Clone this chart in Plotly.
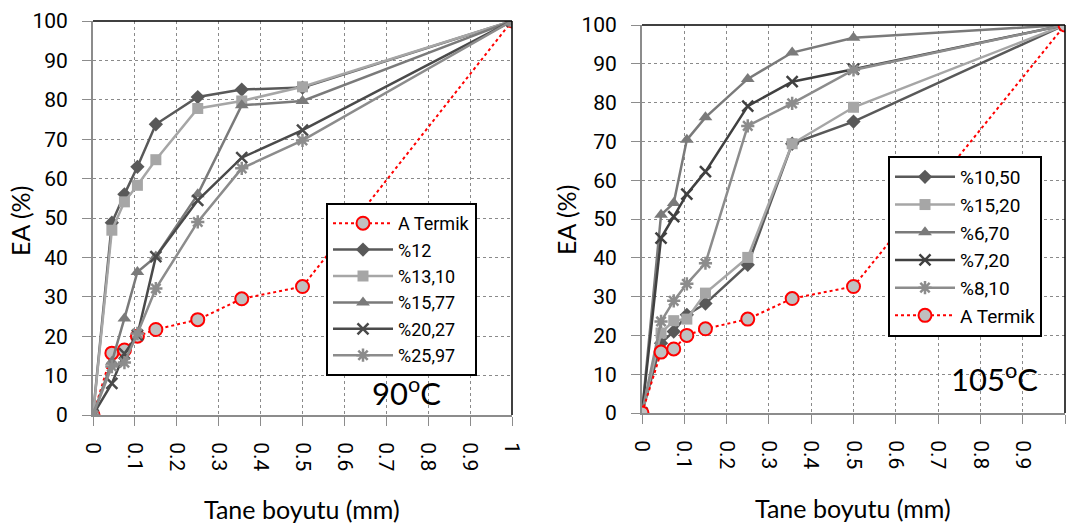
import plotly.graph_objects as go

# ---------------- data ----------------
x_sizes = [0, 0.045, 0.075, 0.106, 0.15, 0.25, 0.355, 0.5, 1]

a_termik = [0, 15.7, 16.5, 20.0, 21.7, 24.2, 29.5, 32.6, 100]

# 90 C series
s90_names = ["%12", "%13,10", "%15,77", "%20,27", "%25,97"]
s90_p12 = [0, 48.8, 56.0, 63.0, 73.8, 80.7, 82.6, 83.1, 100]
s90_p1310 = [0, 46.9, 54.1, 58.3, 64.8, 77.8, 79.7, 83.3, 100]
s90_p1577 = [0, 13.5, 24.5, 36.3, 40.2, 56.0, 78.6, 79.7, 100]
s90_p2027 = [0, 8.0, 15.6, 20.3, 40.2, 54.5, 65.3, 72.3, 100]
s90_p2597 = [0, 12.3, 13.3, 20.7, 32.1, 49.0, 62.6, 69.7, 100]

# 105 C series
s105_names = ["%10,50", "%15,20", "%6,70", "%7,20", "%8,10"]
s105_p1050 = [0, 18.0, 21.0, 25.3, 28.2, 38.2, 69.4, 75.1, 100]
s105_p1520 = [0, 20.6, 23.8, 24.2, 30.9, 40.1, 69.4, 78.8, 100]
s105_p670 = [0, 51.1, 54.1, 70.4, 76.2, 86.1, 92.9, 96.7, 100]
s105_p720 = [0, 45.1, 50.6, 56.4, 62.2, 79.1, 85.4, 88.6, 100]
s105_p810 = [0, 23.6, 28.9, 33.3, 38.6, 74.0, 79.8, 88.4, 100]

x_ticks = [0, 0.1, 0.2, 0.3, 0.4, 0.5, 0.6, 0.7, 0.8, 0.9, 1]
x_ticktext = ["0", "0.1", "0.2", "0.3", "0.4", "0.5", "0.6", "0.7", "0.8", "0.9", "1"]
y_ticks = [0, 10, 20, 30, 40, 50, 60, 70, 80, 90, 100]

# ---------------- styles ----------------
TICKFONT = dict(family="Roboto, Liberation Sans, sans-serif", size=21, color="#000")
LEGFONT_L = dict(family="Roboto, Liberation Sans, sans-serif", size=18, color="#000")
LEGFONT_R = dict(family="Roboto, Liberation Sans, sans-serif", size=19, color="#000")
TITLEFONT = dict(family="Lato, Open Sans, sans-serif", size=25, color="#000")

styles90 = [
    dict(color="#595959", symbol="diamond", size=11),
    dict(color="#A6A6A6", symbol="square", size=11),
    dict(color="#7A7A7A", symbol="triangle-up", size=12),
    dict(color="#4A4A4A", symbol="x-thin-open", size=11),
    dict(color="#8C8C8C", symbol="asterisk-open", size=11),
]
styles105 = [
    dict(color="#595959", symbol="diamond", size=11),
    dict(color="#A6A6A6", symbol="square", size=11),
    dict(color="#7A7A7A", symbol="triangle-up", size=12),
    dict(color="#404040", symbol="x-thin-open", size=11),
    dict(color="#8C8C8C", symbol="asterisk-open", size=11),
]

fig = go.Figure()


def add_termik(xa, ya, leg):
    fig.add_trace(go.Scatter(
        x=x_sizes, y=a_termik, name="A Termik", mode="lines+markers",
        xaxis=xa, yaxis=ya, legend=leg,
        line=dict(color="#FF0000", width=2, dash="dot"),
        marker=dict(symbol="circle", size=13, color="#C0C0C0",
                    line=dict(color="#FF0000", width=2)),
    ))


def add_series(vals, name, st, xa, ya, leg):
    open_sym = st["symbol"].endswith("open")
    fig.add_trace(go.Scatter(
        x=x_sizes, y=vals, name=name, mode="lines+markers",
        xaxis=xa, yaxis=ya, legend=leg,
        line=dict(color=st["color"], width=2.5),
        marker=dict(symbol=st["symbol"], size=st["size"], color=st["color"],
                    line=dict(color=st["color"], width=2.5 if open_sym else 0)),
    ))


# left chart (90 C)
add_termik("x", "y", "legend")
for vals, name, st in zip([s90_p12, s90_p1310, s90_p1577, s90_p2027, s90_p2597], s90_names, styles90):
    add_series(vals, name, st, "x", "y", "legend")

# right chart (105 C)
for vals, name, st in zip([s105_p1050, s105_p1520, s105_p670, s105_p720, s105_p810], s105_names, styles105):
    add_series(vals, name, st, "x2", "y2", "legend2")
add_termik("x2", "y2", "legend2")

W, H = 1067, 527


def px_x(p):
    return p / W


def px_y(p):
    return 1 - p / H


axis_common = dict(
    showgrid=True, gridcolor="#8A8A8A", griddash="dot", gridwidth=1,
    showline=True, linecolor="#8C8C8C", linewidth=2,
    ticks="outside", ticklen=9, tickcolor="#8C8C8C", tickwidth=1,
    tickfont=TICKFONT, zeroline=False, automargin=False,
)

xcommon = dict(axis_common, range=[0, 1], tickvals=x_ticks, ticktext=x_ticktext,
               tickangle=90, ticklabelstandoff=12)
ycommon = dict(axis_common, range=[0, 100], tickvals=y_ticks, ticklabelstandoff=10)


def ann(text, xp, yp, font, angle=0, yanchor="middle"):
    return dict(text=text, x=px_x(xp), y=px_y(yp), xref="paper", yref="paper",
                xanchor="center", yanchor=yanchor, textangle=angle,
                showarrow=False, font=font)


fig.update_layout(
    width=W, height=H,
    margin=dict(l=0, r=0, t=0, b=0),
    paper_bgcolor="white", plot_bgcolor="white",
    showlegend=True,
    xaxis=dict(xcommon, domain=[px_x(93), px_x(512)], anchor="y"),
    yaxis=dict(ycommon, domain=[px_y(415), px_y(21)], anchor="x"),
    xaxis2=dict(xcommon, domain=[px_x(642), px_x(1065)], anchor="y2"),
    yaxis2=dict(ycommon, domain=[px_y(413), px_y(25)], anchor="x2"),
    legend=dict(
        x=px_x(326), y=px_y(203), xanchor="left", yanchor="top",
        bgcolor="white", bordercolor="#000", borderwidth=2,
        font=LEGFONT_L, itemwidth=60, tracegroupgap=0,
    ),
    legend2=dict(
        x=px_x(888), y=px_y(156), xanchor="left", yanchor="top",
        bgcolor="white", bordercolor="#000", borderwidth=2,
        font=LEGFONT_R, itemwidth=60, tracegroupgap=0,
    ),
    annotations=[
        ann("EA (%)", 20, 221, TITLEFONT, angle=-90),
        ann("EA (%)", 566, 220, TITLEFONT, angle=-90),
        ann("Tane boyutu (mm)", 302, 509, TITLEFONT),
        ann("Tane boyutu (mm)", 853, 508, TITLEFONT),
        ann("90<sup>o</sup>C", 406, 414, dict(TITLEFONT, size=31), yanchor="bottom"),
        ann("105<sup>o</sup>C", 994, 400, dict(TITLEFONT, size=31), yanchor="bottom"),
    ],
    shapes=[
        # black frame top/right of each plot
        dict(type="line", xref="x domain", yref="y domain", x0=0, x1=1, y0=1, y1=1,
             line=dict(color="#000", width=1.5)),
        dict(type="line", xref="x domain", yref="y domain", x0=1, x1=1, y0=0, y1=1,
             line=dict(color="#000", width=1.5)),
        dict(type="line", xref="x2 domain", yref="y2 domain", x0=0, x1=1, y0=1, y1=1,
             line=dict(color="#000", width=1.5)),
        dict(type="line", xref="x2 domain", yref="y2 domain", x0=1, x1=1, y0=0, y1=1,
             line=dict(color="#000", width=1.5)),
    ],
)

fig.write_html("out.html")
